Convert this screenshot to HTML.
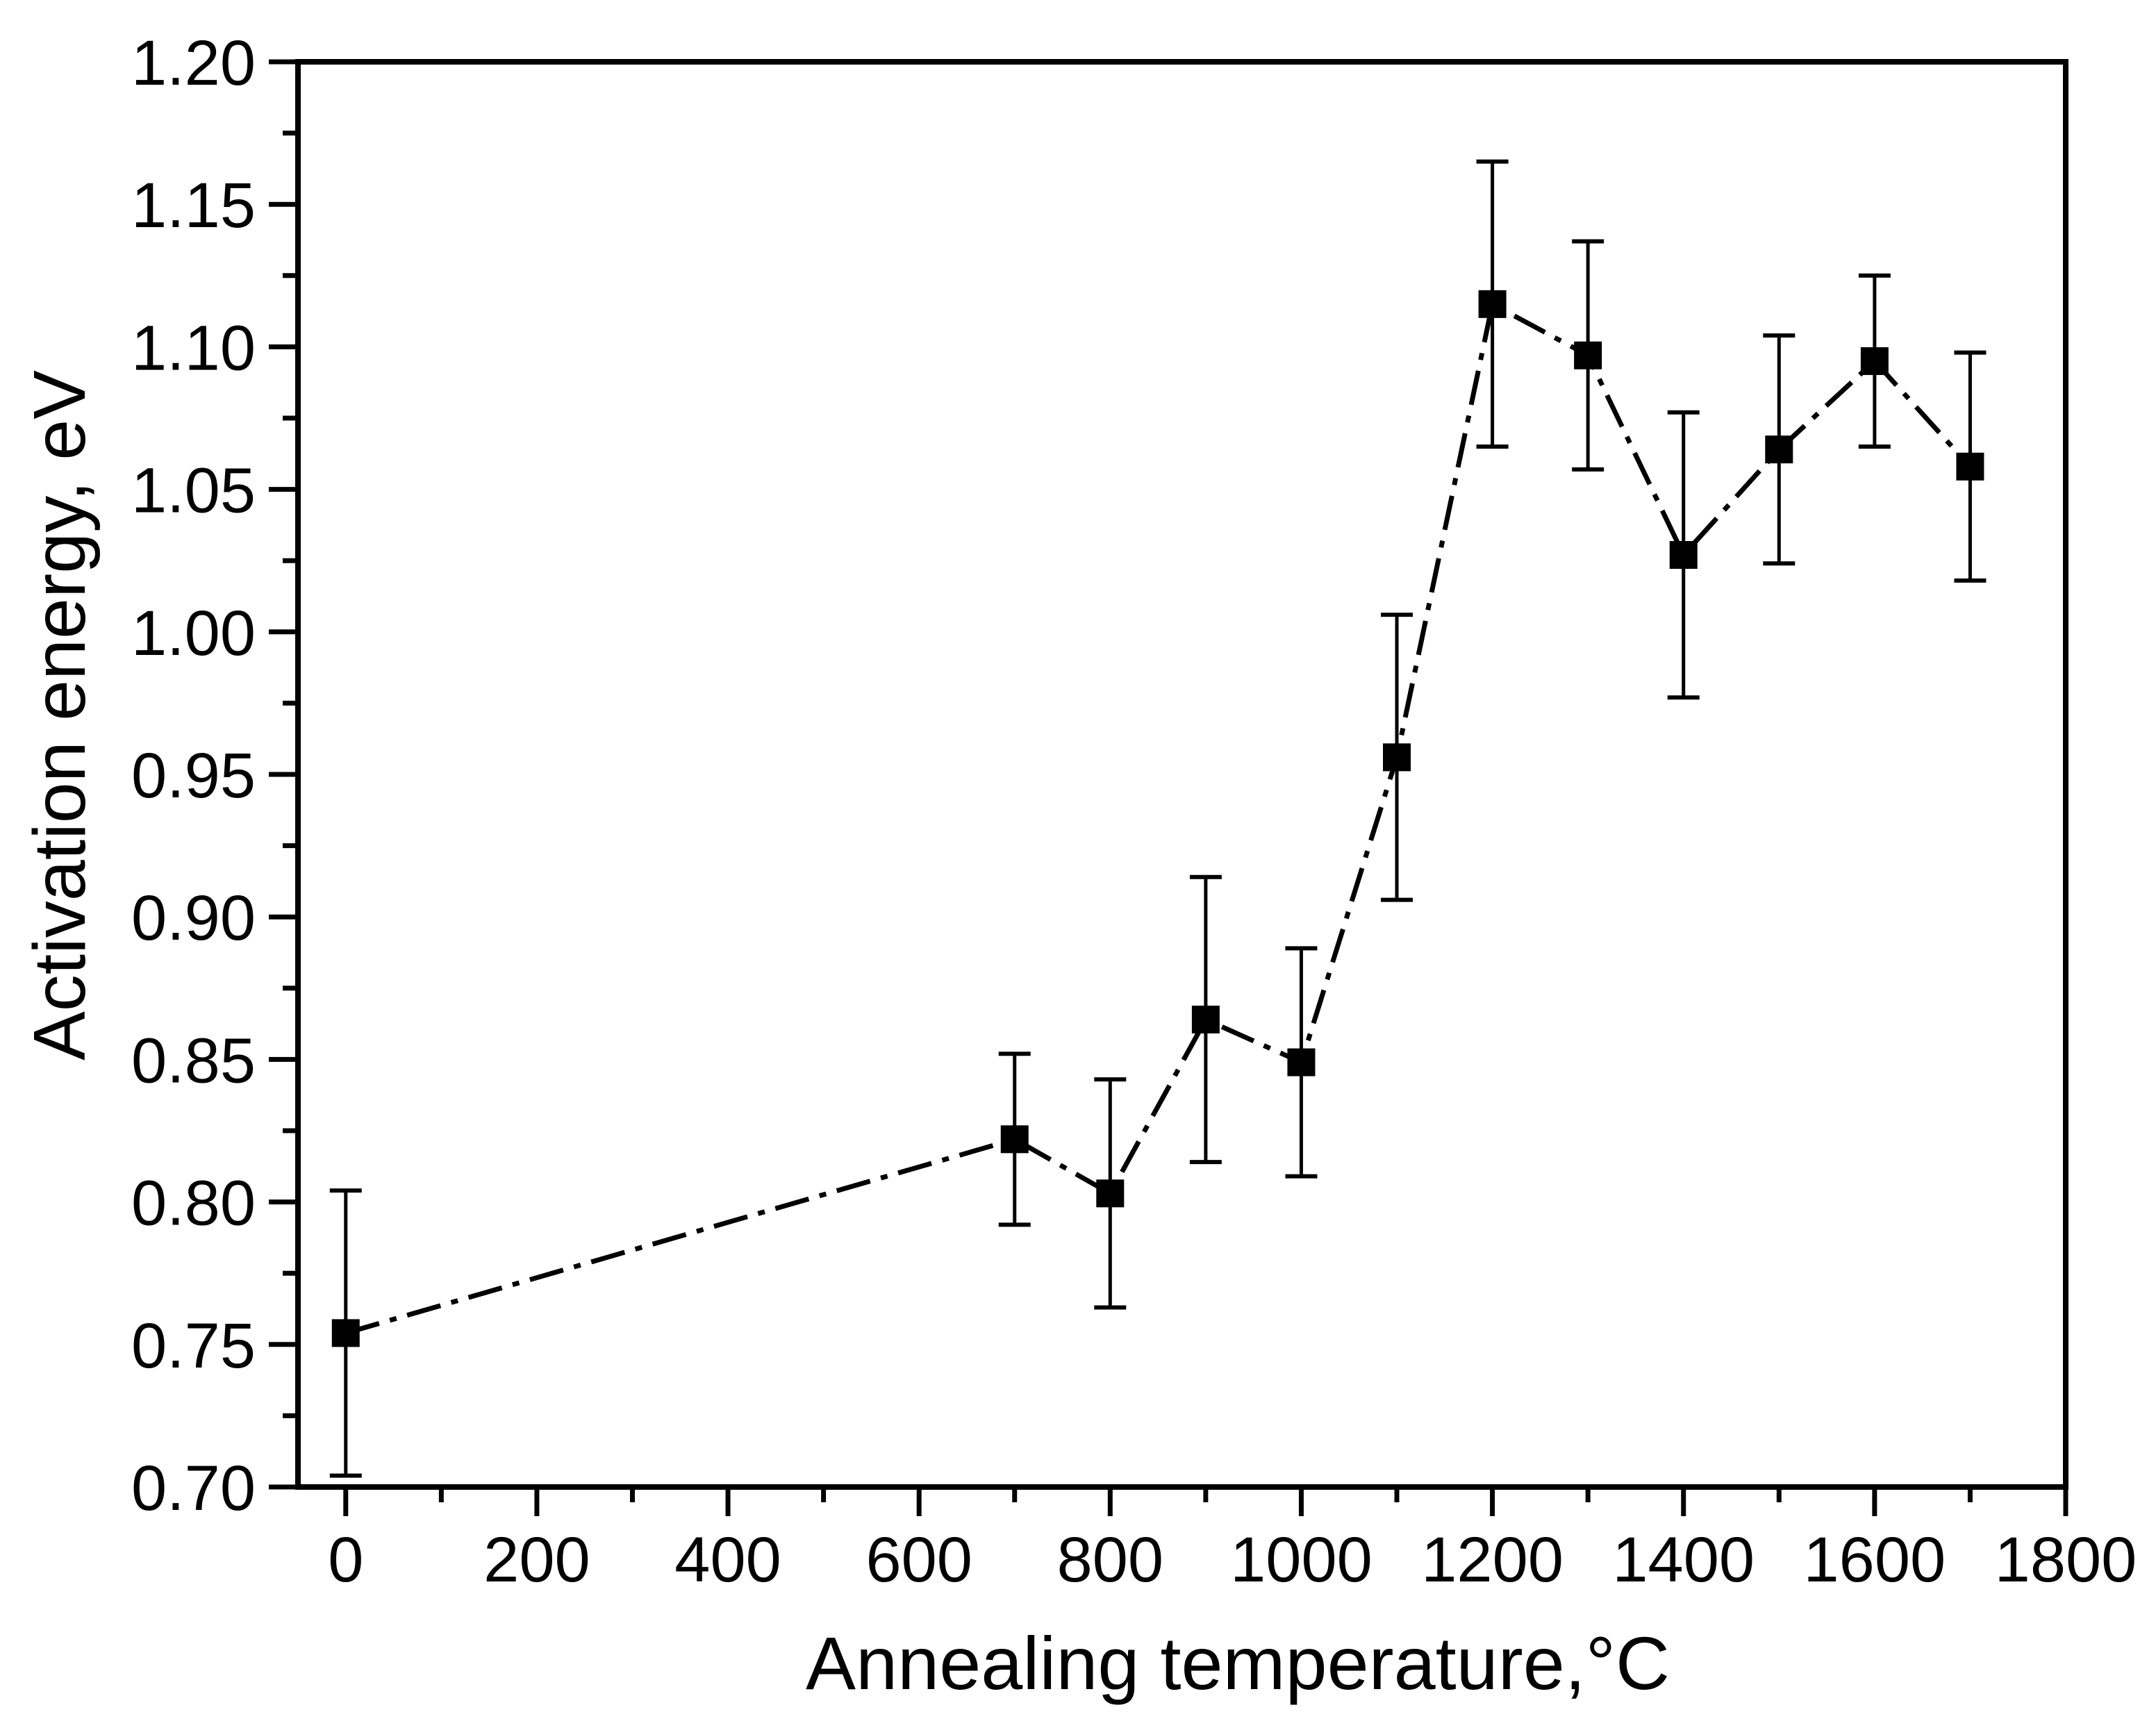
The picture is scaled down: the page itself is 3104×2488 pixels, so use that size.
<!DOCTYPE html>
<html><head><meta charset="utf-8"><style>
html,body{margin:0;padding:0;background:#fff;}
svg{display:block;font-family:"Liberation Sans",Arial,sans-serif;}
</style></head><body>
<svg id="chart" width="3104" height="2488" viewBox="0 0 3104 2488" xmlns="http://www.w3.org/2000/svg">
<g id="grid"></g>
<g id="series"></g>
<rect x="429" y="89" width="2545" height="2052" fill="none" stroke="#000" stroke-width="8"/>
<g id="axes"></g>
<text x="1782" y="2432" font-size="108" text-anchor="middle">Annealing temperature,°C</text>
<text transform="translate(122,1030) rotate(-90)" font-size="106" text-anchor="middle">Activation energy, eV</text>
</svg>
<script>
const temps = [0,700,800,900,1000,1100,1200,1300,1400,1500,1600,1700];
const energy = [0.754,0.822,0.803,0.864,0.849,0.956,1.115,1.097,1.027,1.064,1.095,1.058];
const errs = [0.05,0.03,0.04,0.05,0.04,0.05,0.05,0.04,0.05,0.04,0.03,0.04];
const xTicks = [0,200,400,600,800,1000,1200,1400,1600,1800];
const yTicks = [0.70,0.75,0.80,0.85,0.90,0.95,1.00,1.05,1.10,1.15,1.20];

const L=429,R=2974,T=89,B=2141, xMin=-50,xMax=1800,yMin=0.70,yMax=1.20;
const sx=v=>L+(v-xMin)/(xMax-xMin)*(R-L);
const sy=v=>B-(v-yMin)/(yMax-yMin)*(B-T);
const NS="http://www.w3.org/2000/svg";
function mk(tag,attrs,parent){const e=document.createElementNS(NS,tag);for(const k in attrs)e.setAttribute(k,attrs[k]);parent.appendChild(e);return e;}
const axes=document.getElementById('axes'), ser=document.getElementById('series');

xTicks.forEach((t,i)=>{
  const x=sx(t);
  const tk=mk('line',{x1:x,x2:x,y1:B,y2:B+42,stroke:'#000','stroke-width':7},axes);
  
  
  const lb=mk('text',{x:x,y:B+136,'font-size':92,'text-anchor':'middle'},axes);
  lb.textContent=String(t);
  
  
  if(i<xTicks.length-1){
    const xm=sx(t+100);
    const mt=mk('line',{x1:xm,x2:xm,y1:B,y2:B+22,stroke:'#000','stroke-width':7},axes);
    
    
  }
});
yTicks.forEach((t,i)=>{
  const y=sy(t);
  const tk=mk('line',{x1:L-42,x2:L,y1:y,y2:y,stroke:'#000','stroke-width':7},axes);
  
  
  const lb=mk('text',{x:368,y:y+33,'font-size':92,'text-anchor':'end'},axes);
  lb.textContent=t.toFixed(2);
  
  
  if(i<yTicks.length-1){
    const ym=sy(t+0.025);
    const mt=mk('line',{x1:L-22,x2:L,y1:ym,y2:ym,stroke:'#000','stroke-width':7},axes);
    
    
  }
});

const pts=temps.map((t,i)=>sx(t)+','+sy(energy[i])).join(' ');
const line=mk('polyline',{points:pts,fill:'none',stroke:'#000','stroke-width':7,'stroke-dasharray':'50 16 10 16'},ser);



temps.forEach((t,i)=>{
  const x=sx(t), yt=sy(energy[i]+errs[i]), yb=sy(energy[i]-errs[i]);
  const g=mk('g',{},ser);
  
  
  mk('line',{x1:x,x2:x,y1:yt,y2:yb,stroke:'#000','stroke-width':5},g);
  mk('line',{x1:x-23,x2:x+23,y1:yt,y2:yt,stroke:'#000','stroke-width':6},g);
  mk('line',{x1:x-23,x2:x+23,y1:yb,y2:yb,stroke:'#000','stroke-width':6},g);
});
temps.forEach((t,i)=>{
  const m=mk('rect',{x:sx(t)-20,y:sy(energy[i])-20,width:40,height:40,fill:'#000'},ser);
  
  
});
</script>
</body></html>
